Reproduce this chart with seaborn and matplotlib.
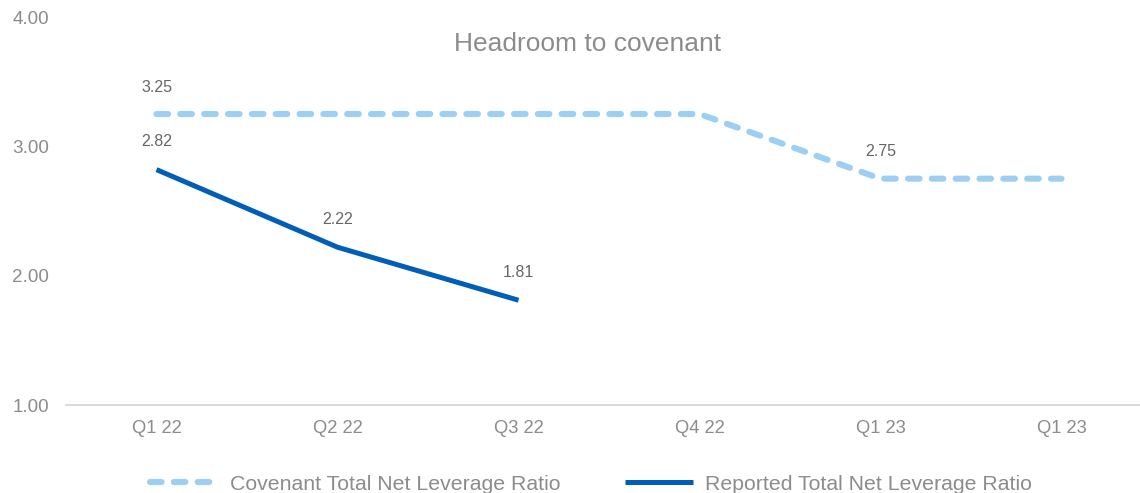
import matplotlib
matplotlib.use("Agg")
import matplotlib.pyplot as plt
import seaborn as sns
import pandas as pd
import numpy as np

quarters = ["Q1 22", "Q2 22", "Q3 22", "Q4 22", "Q1 23", "Q1 23"]
covenant = [3.25, 3.25, 3.25, 3.25, 2.75, 2.75]
reported = [2.82, 2.22, 1.81, np.nan, np.nan, np.nan]
covenant_labels_at = [0, 4]
yticks = [1.0, 2.0, 3.0, 4.0]

sns.set_theme(style="white")
plt.rcParams["font.family"] = ["Liberation Sans", "DejaVu Sans"]

pos = list(range(len(quarters)))
df = pd.DataFrame({"pos": pos, "quarter": quarters,
                   "Covenant Total Net Leverage Ratio": covenant,
                   "Reported Total Net Leverage Ratio": reported})

fig = plt.figure(figsize=(11.4, 4.93), dpi=100)
ax = fig.add_axes([66 / 1140, 88 / 493, 1086 / 1140, 388 / 493])

c_cov = "#9DCFF3"
c_rep = "#005EB8"

sns.lineplot(data=df, x="pos", y="Covenant Total Net Leverage Ratio", ax=ax,
             color=c_cov, linewidth=4.4, label="Covenant Total Net Leverage Ratio")
sns.lineplot(data=df, x="pos", y="Reported Total Net Leverage Ratio", ax=ax,
             color=c_rep, linewidth=3.6, label="Reported Total Net Leverage Ratio")
l_cov, l_rep = ax.get_lines()[0], ax.get_lines()[1]
l_cov.set_dashes((1.9, 2.0))
l_cov.set_dash_capstyle("round")
l_rep.set_solid_capstyle("butt")

lab_col = "#666666"
for i in covenant_labels_at:
    ax.annotate(f"{covenant[i]:.2f}", (pos[i], covenant[i]), xytext=(0, 14),
                textcoords="offset points", ha="center", va="bottom",
                fontsize=11.5, color=lab_col)
for i, v in enumerate(reported):
    if not np.isnan(v):
        ax.annotate(f"{v:.2f}", (pos[i], v), xytext=(0, 14.5),
                    textcoords="offset points", ha="center", va="bottom",
                    fontsize=11.5, color=lab_col)

ax.set_xlim(-0.5, 5.5)
ax.set_ylim(1.0, 4.0)
ax.set_xticks(pos)
ax.set_xticklabels(quarters)
ax.set_yticks(yticks)
ax.set_yticklabels([f"{t:.2f}" for t in yticks])
ax.tick_params(axis="x", length=0, pad=11, labelsize=13.2, colors="#8c8c8c")
ax.tick_params(axis="y", length=0, pad=12, labelsize=13.6, colors="#8c8c8c")
ax.set_xlabel("")
ax.set_ylabel("")
for s in ["top", "right", "left"]:
    ax.spines[s].set_visible(False)
ax.spines["bottom"].set_color("#d9d9d9")
ax.spines["bottom"].set_linewidth(1.3)
ax.grid(False)

fig.text(588 / 1140, 1 - 44 / 493, "Headroom to covenant", ha="center", va="center",
         fontsize=19, color="#8c8c8c")

ax.get_legend().remove()
leg = fig.legend(handles=[l_cov, l_rep],
                 labels=["Covenant Total Net Leverage Ratio", "Reported Total Net Leverage Ratio"],
                 loc="center", bbox_to_anchor=(591 / 1140, 9 / 493), ncol=2, frameon=False,
                 fontsize=15.3, handlelength=3.2, handletextpad=0.6, columnspacing=3.0,
                 labelcolor="#8c8c8c")

fig.savefig("out.png", dpi=100)
